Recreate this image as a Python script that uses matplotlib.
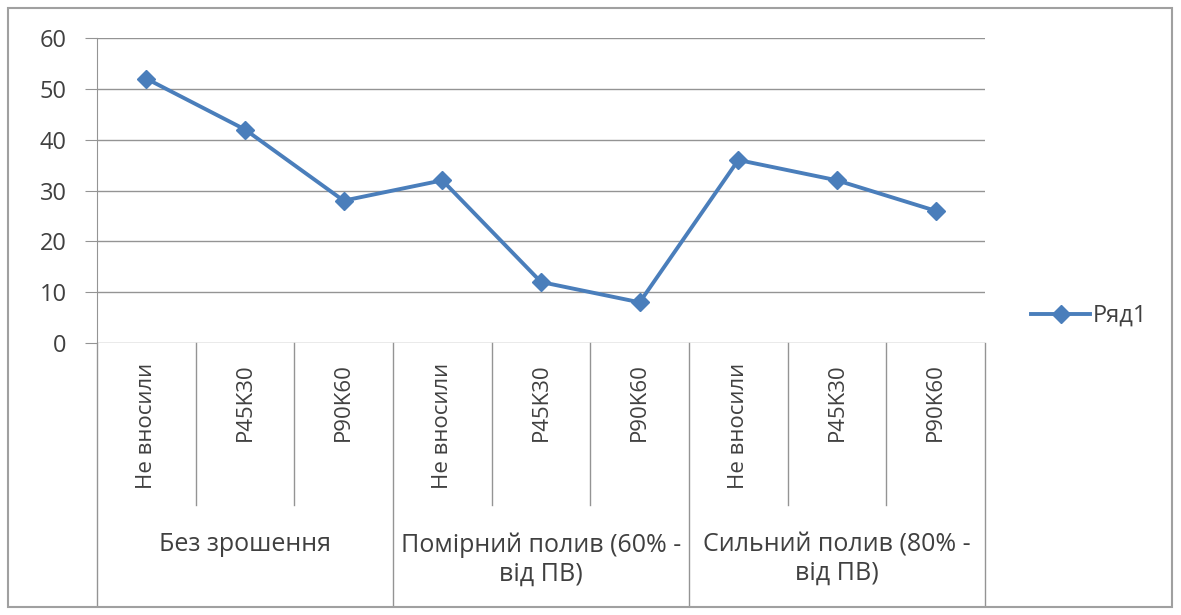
import matplotlib.pyplot as plt
import matplotlib.transforms as mtransforms
from matplotlib.patches import Rectangle

# Data
treatments = ['Не вносили', 'P45K30', 'P90K60'] * 3
groups = ['Без зрошення', 'Помірний полив (60% -\nвід ПВ)', 'Сильний полив (80% -\nвід ПВ)']
values = [52, 42, 28, 32, 12, 8, 36, 32, 26]
series_name = 'Ряд1'

plt.rcParams['font.family'] = ['Open Sans', 'DejaVu Sans']
text_color = '#404040'
grid_color = '#949494'
line_color = '#4a7ebb'

fig = plt.figure(figsize=(11.81, 6.15), dpi=100)
ax = fig.add_axes([97 / 1181, 1 - 343 / 615, 888 / 1181, 305 / 615])

# Outer chart frame
fig.patches.append(Rectangle((8 / 1181, 1 - 607 / 615), 1164 / 1181, 599 / 615,
                             transform=fig.transFigure, fill=False,
                             edgecolor='#a0a0a0', linewidth=1.5))

x = list(range(len(values)))
ax.plot(x, values, color=line_color, linewidth=2.8, marker='D', markersize=9,
        label=series_name)

ax.set_xlim(-0.5, len(values) - 0.5)
ax.set_ylim(0, 60)
ax.set_yticks(range(0, 61, 10))
ax.yaxis.grid(True, color=grid_color, linewidth=1)
ax.set_axisbelow(True)
ax.tick_params(axis='y', length=9, color=grid_color, labelsize=17,
               labelcolor=text_color, pad=13)
ax.set_xticks([])
for side in ['top', 'right', 'bottom']:
    ax.spines[side].set_visible(False)
ax.spines['left'].set_color(grid_color)

# Hierarchical category axis
trans = mtransforms.blended_transform_factory(ax.transData, fig.transFigure)
y_axis = 1 - 343 / 615
y_inner = 1 - 505 / 615
y_outer = 1 - 605 / 615
for i, lab in enumerate(treatments):
    ax.text(i, 1 - 363 / 615, lab, transform=trans, rotation=90, ha='center',
            va='top', fontsize=16, color=text_color)
for i in range(len(treatments) + 1):
    b = i - 0.5
    bottom = y_outer if i % 3 == 0 else y_inner
    ax.plot([b, b], [y_axis, bottom], transform=trans, color=grid_color,
            linewidth=1, clip_on=False)
for g, lab in enumerate(groups):
    ax.text(g * 3 + 1, 1 - 532 / 615, lab, transform=trans, ha='center',
            va='top', fontsize=18, color=text_color, linespacing=1.2)

leg = fig.legend(loc='center left', bbox_to_anchor=(1010 / 1181, 1 - 316 / 615),
                 frameon=False, fontsize=17, handlelength=2.5, handletextpad=0.1)
for t in leg.get_texts():
    t.set_color(text_color)

fig.savefig('out.png', dpi=100)
